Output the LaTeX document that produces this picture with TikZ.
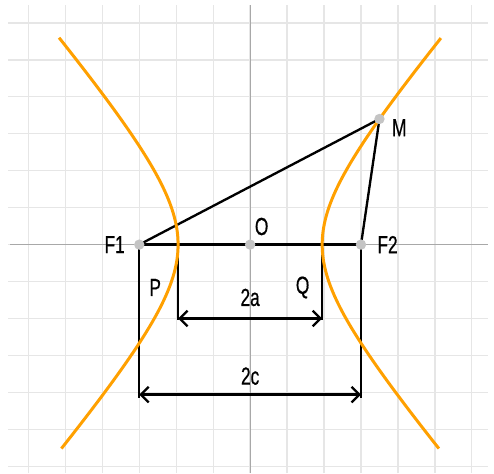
\documentclass[tikz,border=0pt]{standalone}
\usepackage{fontspec}
\newfontfamily\lblfont{Liberation Sans}[FakeStretch=0.7,FakeBold=0.6]
\usetikzlibrary{arrows.meta,calc,positioning}
\definecolor{hyporange}{HTML}{FFA000}
\definecolor{gridgray}{HTML}{E6E6E6}
\definecolor{axisgray}{HTML}{A8A8A8}
\definecolor{dotgray}{HTML}{C4C4C4}

\begin{document}
\begin{tikzpicture}[
  lbl/.style={font=\lblfont\fontsize{19}{21}\selectfont, inner sep=2pt},
  seg/.style={line width=1.8pt, black},
  dimarrow/.style={line width=1.8pt,
    {Straight Barb[length=6pt,width=12pt]}-{Straight Barb[length=6pt,width=12pt]}},
  hyp/.style={hyporange, line width=2.3pt, samples=90, smooth},
  dotpt/.style={circle, fill=dotgray, inner sep=0pt, minimum size=8pt}]
  \useasboundingbox (-6.77,-6.19) rectangle (6.6,6.62);
  % ── Grid and axes ──
  \foreach \k in {-6,...,6} {
    \draw[gridgray, line width=1pt] (\k,-6.19) -- (\k,6.48);
    \draw[gridgray, line width=1pt] (-6.55,\k) -- (6.44,\k);
  }
  \draw[axisgray, line width=0.8pt] (-6.5,0) -- (6.44,0);
  \draw[axisgray, line width=0.8pt] (0,-6.19) -- (0,6.48);
  %
  % ── Points ──
  \coordinate (O) at (0,0);
  \coordinate (F1) at (-3,0);
  \coordinate (F2) at (3,0);
  \coordinate (M) at (3.5,3.40);
  \coordinate (P) at (-1.95,0);
  \coordinate (Q) at (1.95,0);
  \coordinate (F1b) at (-3,-4.16);
  \coordinate (F2b) at (3,-4.16);
  \coordinate (Pb) at (-1.95,-2.04);
  \coordinate (Qb) at (1.95,-2.04);
  \coordinate (a1) at (-1.95,-2);
  \coordinate (a2) at (1.95,-2);
  \coordinate (c1) at (-3,-4.06);
  \coordinate (c2) at (3,-4.06);
  %
  % ── Segments ──
  \draw[seg] (F1) -- (M) -- (F2);
  \draw[seg] (F1) -- (F2);
  \draw[seg] (F1) -- (F1b);
  \draw[seg] (F2) -- (F2b);
  \draw[seg] (P) -- (Pb);
  \draw[seg] (Q) -- (Qb);
  \draw[dimarrow] (a1) -- (a2);
  \draw[dimarrow] (c1) -- (c2);
  %
  % ── Hyperbola, a=1.95, c=3 ──
  \draw[hyp, domain=-5.52:5.59, variable=\t]
    plot ({1.95*sqrt(1+\t*\t/5.1975)}, \t);
  \draw[hyp, domain=-5.52:5.60, variable=\t]
    plot ({-1.95*sqrt(1+\t*\t/5.1975)}, \t);
  %
  % ── Dots ──
  \node[dotpt] (F1dot) at (F1) {};
  \node[dotpt] (F2dot) at (F2) {};
  \node[dotpt] (Odot) at (O) {};
  \node[dotpt] (Mdot) at (M) {};
  %
  % ── Labels ──
  \node[lbl, left=9pt of F1] (lF1) {F1};
  \node[lbl, right=10.5pt of F2] (lF2) {F2};
  \node[lbl, above right=5pt and 1.5pt of O] (lO) {O};
  \node[lbl, below right=-2pt and 7.5pt of M] (lM) {M};
  \node[lbl] (lP) at (-2.57,-1.16) {P};
  \node[lbl] (lQ) at (1.42,-1.16) {Q};
  \node[lbl] (l2a) at (0,-1.43) {2a};
  \node[lbl] (l2c) at (0,-3.56) {2c};
\end{tikzpicture}
\end{document}
